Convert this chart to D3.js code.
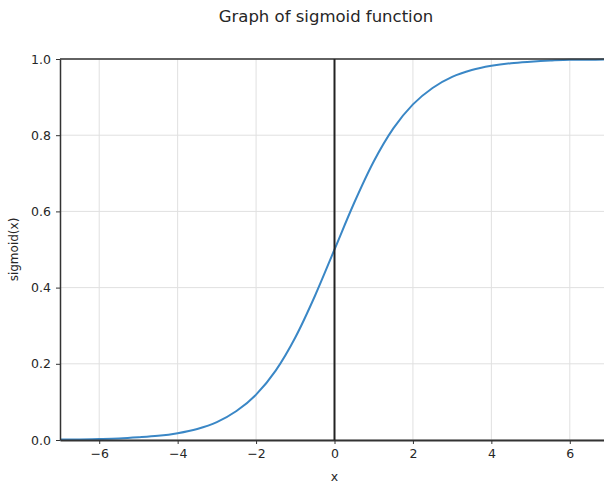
<!DOCTYPE html>
<meta charset="UTF-8">
<script src="https://d3js.org/d3.v7.min.js"></script>
<style>
body { margin: 0; background: #fff; }
text { font-family: "DejaVu Sans", sans-serif; fill: #262626; }
</style>
<div id="my_dataviz"></div>
<script>

// points
var xVals = [-7, -6.5, -6, -5.5, -5, -4.5, -4, -3.5, -3, -2.5, -2, -1.5, -1, -0.5, 0,
             0.5, 1, 1.5, 2, 2.5, 3, 3.5, 4, 4.5, 5, 5.5, 6, 6.5, 7]
var yVals = [0.001, 0.0015, 0.0025, 0.004, 0.007, 0.011, 0.018, 0.029, 0.047, 0.076, 0.119, 0.182, 0.269, 0.378, 0.5,
             0.622, 0.731, 0.818, 0.881, 0.924, 0.953, 0.971, 0.982, 0.989, 0.993, 0.996, 0.998, 0.998, 0.999]
var xTicks = [-6, -4, -2, 0, 2, 4, 6]
var yTicks = [0, 0.2, 0.4, 0.6, 0.8, 1.0]

var width = 604
var height = 484
var margin = {left: 60, right: -5, top: 59, bottom: 44}

var svg = d3.select('#my_dataviz')
    .append("svg")
        .attr("width", width)
        .attr("height", height)

var x = d3.scaleLinear()
    .domain([-7, 7])
    .range([margin.left, width - margin.right])

var y = d3.scaleLinear()
    .domain([0, 1])
    .range([height - margin.bottom, margin.top])

// grid
svg.append("g")
    .selectAll("line")
    .data(xTicks)
    .enter()
    .append("line")
        .attr("x1", function(d){ return x(d) })
        .attr("x2", function(d){ return x(d) })
        .attr("y1", y(0))
        .attr("y2", y(1))
        .attr("stroke", "#e0e0e0")
        .attr("stroke-width", 1)

svg.append("g")
    .selectAll("line")
    .data(yTicks)
    .enter()
    .append("line")
        .attr("x1", x(-7))
        .attr("x2", x(7))
        .attr("y1", function(d){ return y(d) })
        .attr("y2", function(d){ return y(d) })
        .attr("stroke", "#e0e0e0")
        .attr("stroke-width", 1)

// the curve
var pts = xVals.map(function(d, i){ return [d, yVals[i]] })
var line = d3.line()
    .x(function(d){ return x(d[0]) })
    .y(function(d){ return y(d[1]) })
    .curve(d3.curveMonotoneX)

svg.append("path")
    .datum(pts)
    .attr("fill", "none")
    .attr("stroke", "#3a87c6")
    .attr("stroke-width", 2)
    .attr("d", line)

// spines
var spine = "#333"
svg.append("line")
    .attr("x1", x(-7)).attr("x2", x(7))
    .attr("y1", y(1)).attr("y2", y(1))
    .attr("stroke", spine).attr("stroke-width", 1.5)
svg.append("line")
    .attr("x1", x(7)).attr("x2", x(7))
    .attr("y1", y(0)).attr("y2", y(1))
    .attr("stroke", spine).attr("stroke-width", 1.5)

// axes
var fmtX = function(d){ return d < 0 ? "\u2212" + Math.abs(d) : d }
var xAxis = svg.append("g")
    .attr("transform", "translate(0," + y(0) + ")")
    .call(d3.axisBottom(x).tickValues(xTicks).tickFormat(fmtX).tickSize(4).tickPadding(5).tickSizeOuter(0))
var yAxis = svg.append("g")
    .attr("transform", "translate(" + x(-7) + ",0)")
    .call(d3.axisLeft(y).tickValues(yTicks).tickFormat(d3.format(".1f")).tickSize(4).tickPadding(5).tickSizeOuter(0))

xAxis.select(".domain").attr("stroke", spine).attr("stroke-width", 2)
yAxis.select(".domain").attr("stroke", spine).attr("stroke-width", 1.5)
xAxis.selectAll(".tick line").attr("stroke", spine)
yAxis.selectAll(".tick line").attr("stroke", spine)
svg.selectAll(".tick text").style("font-size", "12.5px").style("font-family", "DejaVu Sans").attr("fill", "#262626")

// vertical line at x = 0
svg.append("line")
    .attr("x1", x(0)).attr("x2", x(0))
    .attr("y1", y(0)).attr("y2", y(1))
    .attr("stroke", "#222").attr("stroke-width", 2)

// labels
svg.append("text")
    .attr("x", 326)
    .attr("y", 22)
    .attr("text-anchor", "middle")
    .style("font-size", "16.5px")
    .text("Graph of sigmoid function")

svg.append("text")
    .attr("x", x(0))
    .attr("y", 481)
    .attr("text-anchor", "middle")
    .style("font-size", "12.5px")
    .text("x")

svg.append("text")
    .attr("transform", "translate(18," + y(0.5) + ") rotate(-90)")
    .attr("text-anchor", "middle")
    .style("font-size", "12px")
    .text("sigmoid(x)")

</script>
